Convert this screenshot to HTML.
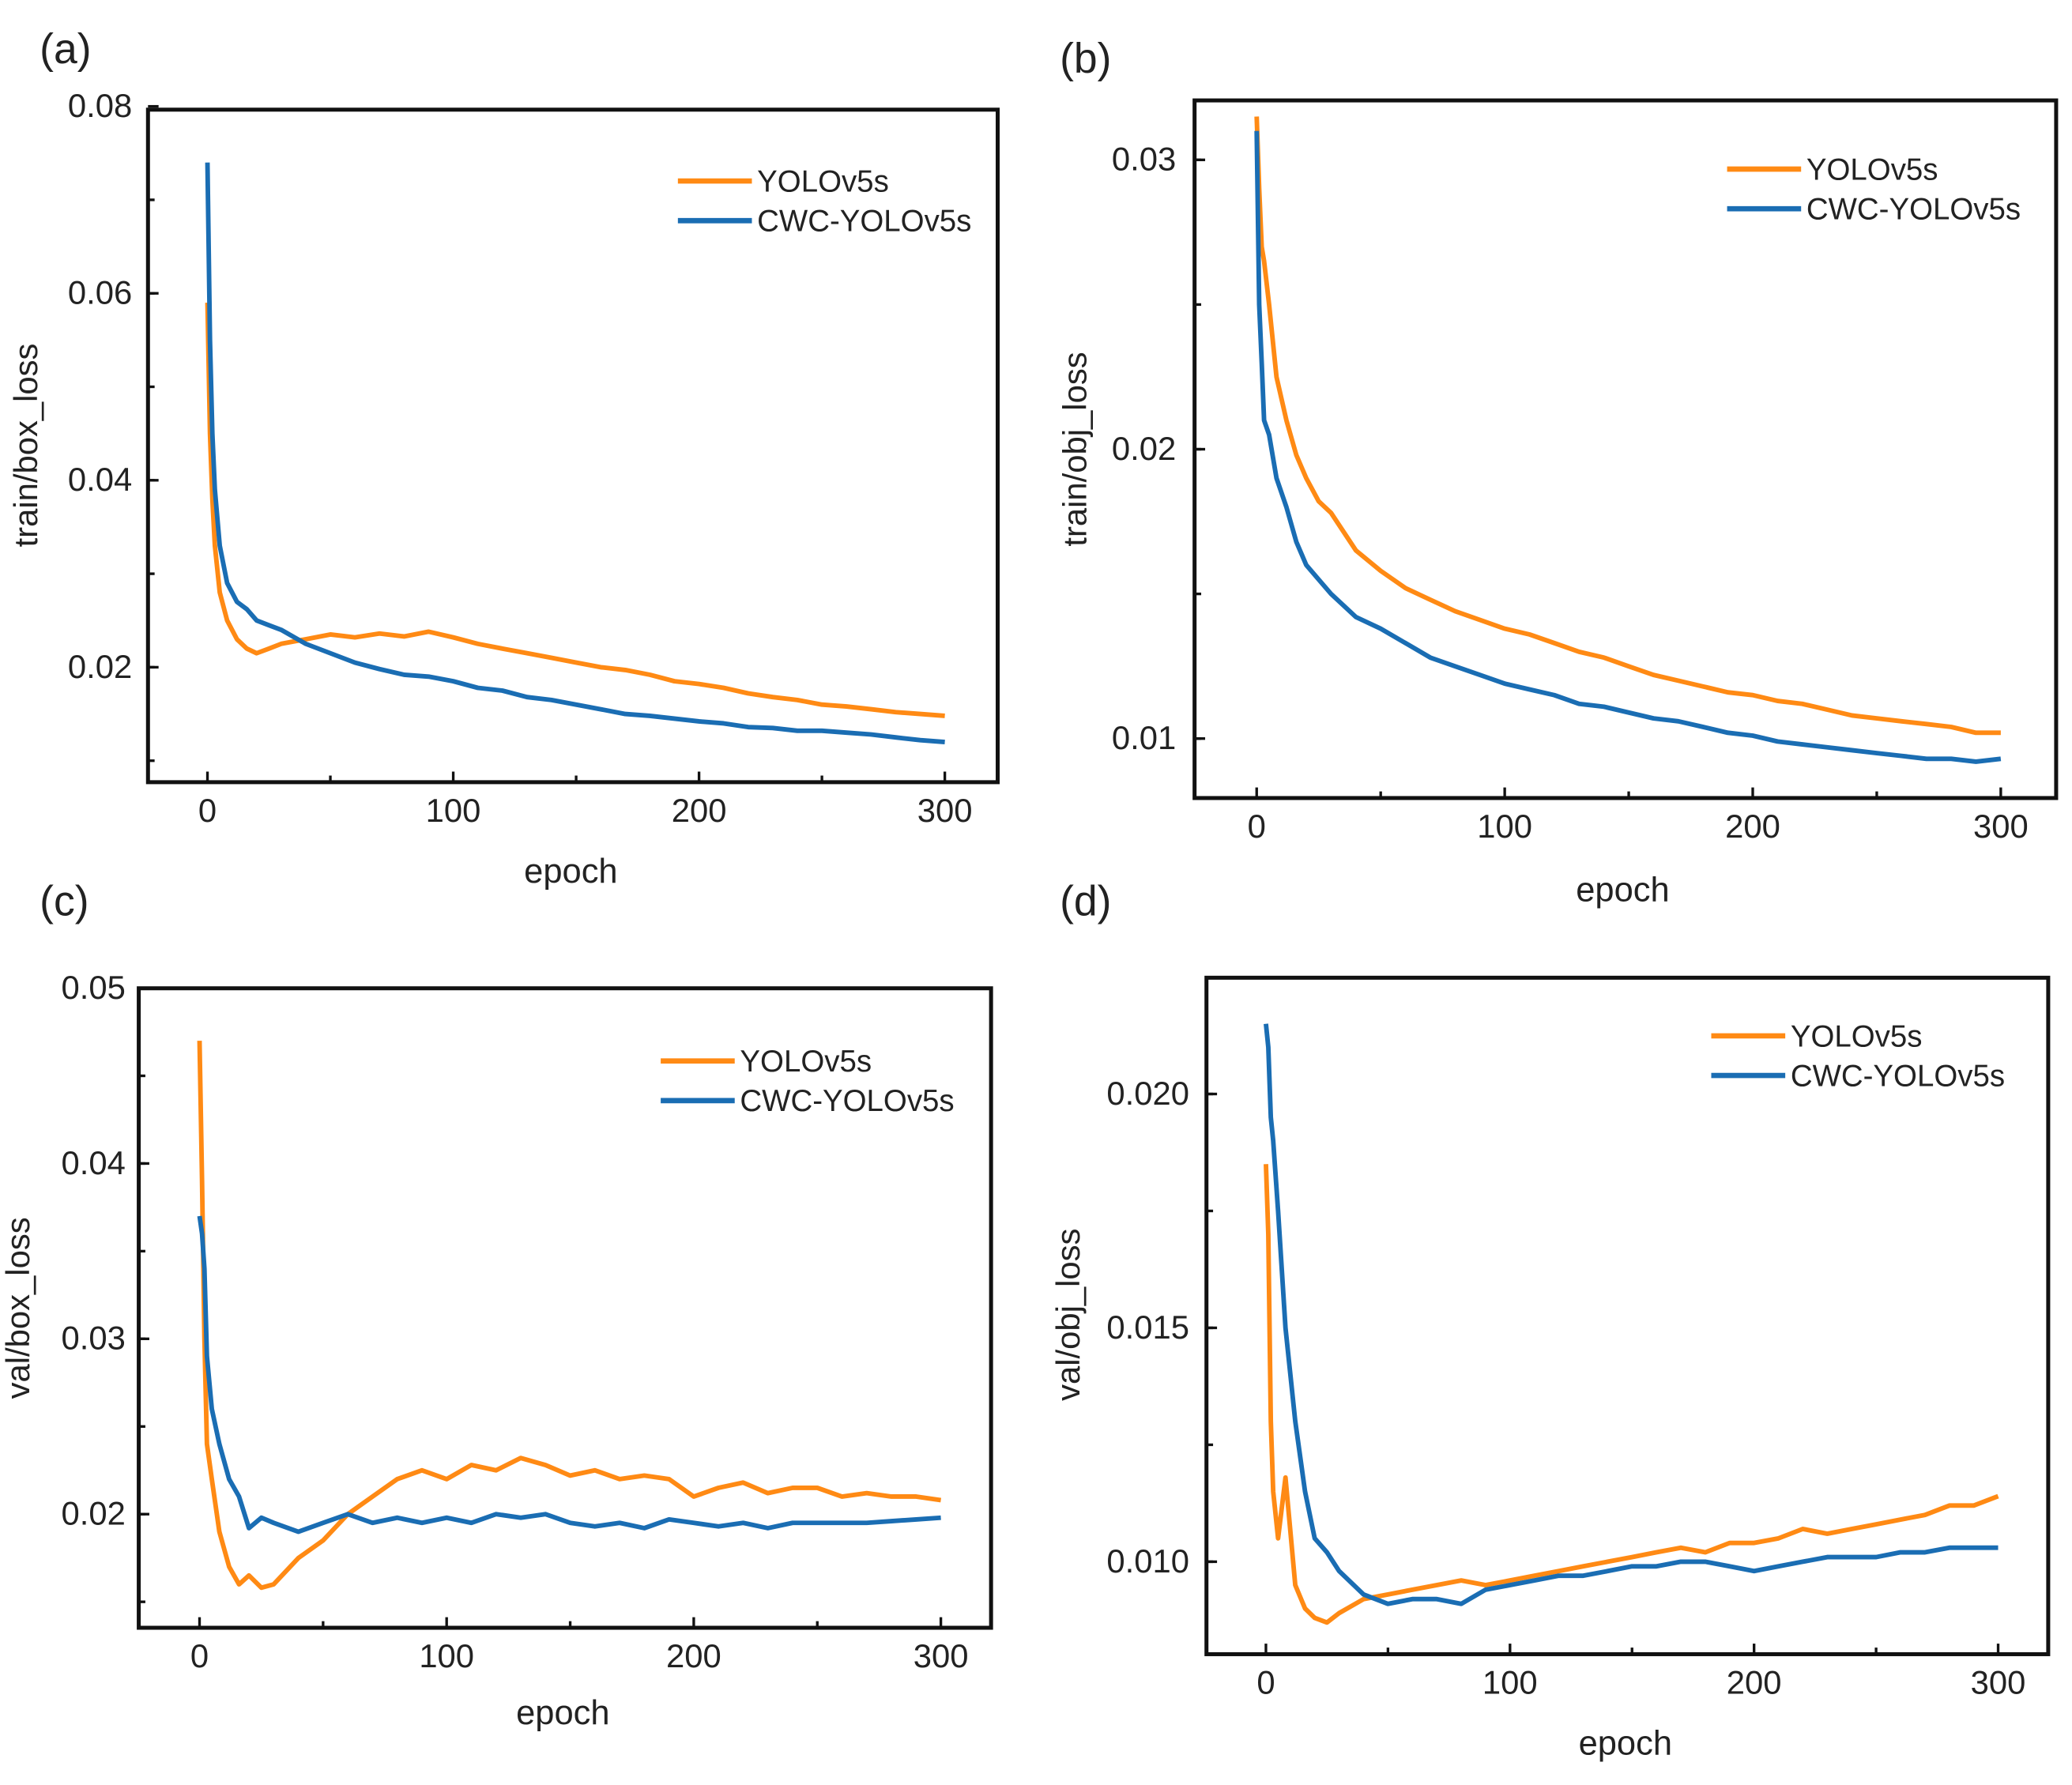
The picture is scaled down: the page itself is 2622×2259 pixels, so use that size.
<!DOCTYPE html>
<html>
<head>
<meta charset="utf-8">
<style>
html,body{margin:0;padding:0;background:#fff;}
svg{display:block;}
text{font-family:"Liberation Sans",sans-serif;fill:#222;}
</style>
</head>
<body>
<svg id="fig" width="2622" height="2259" viewBox="0 0 1568 1351" preserveAspectRatio="none" xmlns="http://www.w3.org/2000/svg"></svg>
<script>
const epochs = [0,1,2,3,5,8,12,16,20,25,30,40,50,60,70,80,90,100,110,120,130,140,150,160,170,180,190,200,210,220,230,240,250,260,270,280,290,300];

const aYolo = [0.059,0.045,0.038,0.033,0.028,0.025,0.023,0.022,0.0215,0.022,0.0225,0.023,0.0235,0.0232,0.0236,0.0233,0.0238,0.0232,0.0225,0.022,0.0215,0.021,0.0205,0.020,0.0197,0.0192,0.0185,0.0182,0.0178,0.0172,0.0168,0.0165,0.016,0.0158,0.0155,0.0152,0.015,0.0148];
const aCwc = [0.074,0.055,0.045,0.039,0.033,0.029,0.027,0.0262,0.025,0.0245,0.024,0.0225,0.0215,0.0205,0.0198,0.0192,0.019,0.0185,0.0178,0.0175,0.0168,0.0165,0.016,0.0155,0.015,0.0148,0.0145,0.0142,0.014,0.0136,0.0135,0.0132,0.0132,0.013,0.0128,0.0125,0.0122,0.012];

const bYolo = [0.0315,0.029,0.027,0.0265,0.025,0.0225,0.021,0.0198,0.019,0.0182,0.0178,0.0165,0.0158,0.0152,0.0148,0.0144,0.0141,0.0138,0.0136,0.0133,0.013,0.0128,0.0125,0.0122,0.012,0.0118,0.0116,0.0115,0.0113,0.0112,0.011,0.0108,0.0107,0.0106,0.0105,0.0104,0.0102,0.0102];
const bCwc = [0.031,0.025,0.023,0.021,0.0205,0.019,0.018,0.0168,0.016,0.0155,0.015,0.0142,0.0138,0.0133,0.0128,0.0125,0.0122,0.0119,0.0117,0.0115,0.0112,0.0111,0.0109,0.0107,0.0106,0.0104,0.0102,0.0101,0.0099,0.0098,0.0097,0.0096,0.0095,0.0094,0.0093,0.0093,0.0092,0.0093];

const cYolo = [0.047,0.039,0.030,0.024,0.022,0.019,0.017,0.016,0.0165,0.0158,0.016,0.0175,0.0185,0.020,0.021,0.022,0.0225,0.022,0.0228,0.0225,0.0232,0.0228,0.0222,0.0225,0.022,0.0222,0.022,0.021,0.0215,0.0218,0.0212,0.0215,0.0215,0.021,0.0212,0.021,0.021,0.0208];
const cCwc = [0.037,0.036,0.034,0.029,0.026,0.024,0.022,0.021,0.0192,0.0198,0.0195,0.019,0.0195,0.020,0.0195,0.0198,0.0195,0.0198,0.0195,0.020,0.0198,0.020,0.0195,0.0193,0.0195,0.0192,0.0197,0.0195,0.0193,0.0195,0.0192,0.0195,0.0195,0.0195,0.0195,0.0196,0.0197,0.0198];

const dYolo = [0.0185,0.017,0.013,0.0115,0.0105,0.0118,0.0095,0.009,0.0088,0.0087,0.0089,0.0092,0.0093,0.0094,0.0095,0.0096,0.0095,0.0096,0.0097,0.0098,0.0099,0.010,0.0101,0.0102,0.0103,0.0102,0.0104,0.0104,0.0105,0.0107,0.0106,0.0107,0.0108,0.0109,0.011,0.0112,0.0112,0.0114];
const dCwc = [0.0215,0.021,0.0195,0.019,0.0175,0.015,0.013,0.0115,0.0105,0.0102,0.0098,0.0093,0.0091,0.0092,0.0092,0.0091,0.0094,0.0095,0.0096,0.0097,0.0097,0.0098,0.0099,0.0099,0.010,0.010,0.0099,0.0098,0.0099,0.010,0.0101,0.0101,0.0101,0.0102,0.0102,0.0103,0.0103,0.0103];

const xTicks = [0,100,200,300];
const aTicks = [0.02,0.04,0.06,0.08];
const bTicks = [0.01,0.02,0.03];
const cTicks = [0.02,0.03,0.04,0.05];
const dTicks = [0.010,0.015,0.020];
const seriesNames = ["YOLOv5s","CWC-YOLOv5s"];

const NS="http://www.w3.org/2000/svg";
const svg=document.getElementById('fig');
function mk(tag,attrs,parent){const e=document.createElementNS(NS,tag);for(const k in attrs)e.setAttribute(k,attrs[k]);(parent||svg).appendChild(e);return e;}

const panels=[
 {id:'a',box:[112,83,755,592],x0:157,x100:186,yRef:[0.02,505],yPer:141.5/0.02,ticks:aTicks,dec:2,ys:[aYolo,aCwc],ytitle:'train/box_loss',yt:[28,337],et:[432,668],lab:[30,48],tickX:100,leg:[513,137],minor:0.01},
 {id:'b',box:[904,76,1556,604],x0:951,x100:187.7,yRef:[0.01,559],yPer:219/0.01,ticks:bTicks,dec:2,ys:[bYolo,bCwc],ytitle:'train/obj_loss',yt:[822,340],et:[1228,682],lab:[802,55],tickX:890,leg:[1307,128],minor:0.005},
 {id:'c',box:[105,748,750,1232],x0:151,x100:187,yRef:[0.02,1146],yPer:132.7/0.01,ticks:cTicks,dec:2,ys:[cYolo,cCwc],ytitle:'val/box_loss',yt:[22,990],et:[426,1305],lab:[30,693],tickX:95,leg:[500,803],minor:0.005},
 {id:'d',box:[913,740,1550,1252],x0:958,x100:184.7,yRef:[0.010,1182],yPer:177/0.005,ticks:dTicks,dec:3,ys:[dYolo,dCwc],ytitle:'val/obj_loss',yt:[817,995],et:[1230,1328],lab:[802,693],tickX:900,leg:[1295,784],minor:0.0025}
];
const colors=['#ff8a14','#1a6db3'];

panels.forEach(p=>{
 const g=mk('g',{});
 
 
 const xs=v=>p.x0+v*p.x100/100;
 const ys=v=>p.yRef[1]-(v-p.yRef[0])*p.yPer;
 const [L,T,R,B]=p.box;
 const cp=mk('clipPath',{id:'clip'+p.id},g);
 mk('rect',{x:L,y:T,width:R-L,height:B-T},cp);
 p.ys.forEach((arr,si)=>{
  let d='';
  arr.forEach((v,i)=>{d+=(i?'L':'M')+xs(epochs[i]).toFixed(1)+','+ys(v).toFixed(1);});
  const path=mk('path',{d:d,fill:'none',stroke:colors[si],'stroke-width':3.5,'stroke-linejoin':'round','clip-path':'url(#clip'+p.id+')'},g);
  
  
 });
 const fr=mk('rect',{x:L,y:T,width:R-L,height:B-T,fill:'none',stroke:'#111','stroke-width':3},g);
 
 
 for(let v=0;v<=300;v+=50){
  const x=xs(v);const major=v%100===0;
  mk('line',{x1:x,y1:B,x2:x,y2:B-(major?8:5),stroke:'#111','stroke-width':2},g);
 }
 xTicks.forEach(v=>{
  const t=mk('text',{x:xs(v),y:B+30,'text-anchor':'middle','font-size':25},g);
  t.textContent=v;
  
  
 });
 const lo=p.ticks[0]-p.minor*4, hi=p.ticks[p.ticks.length-1]+p.minor;
 for(let v=lo;v<=hi+1e-9;v+=p.minor){
  const y=ys(v); if(y<T+2||y>B) continue;
  mk('line',{x1:L,y1:y,x2:L+5,y2:y,stroke:'#111','stroke-width':2},g);
 }
 p.ticks.forEach(v=>{
  const y=ys(v);
  mk('line',{x1:L,y1:y,x2:L+8,y2:y,stroke:'#111','stroke-width':2},g);
  const t=mk('text',{x:p.tickX,y:y+8,'text-anchor':'end','font-size':25},g);
  t.textContent=v.toFixed(p.dec);
  
  
 });
 const yt=mk('text',{x:p.yt[0],y:p.yt[1],'text-anchor':'middle','font-size':25,transform:'rotate(-90 '+p.yt[0]+' '+p.yt[1]+')'},g);
 yt.textContent=p.ytitle;
 
 
 const et=mk('text',{x:p.et[0],y:p.et[1],'text-anchor':'middle','font-size':26},g);
 et.textContent='epoch';
 
 
 const pl=mk('text',{x:p.lab[0],y:p.lab[1],'font-size':32},g);
 pl.textContent='('+p.id+')';
 
 
 seriesNames.forEach((n,i)=>{
  const y=p.leg[1]+i*30;
  const ln=mk('line',{x1:p.leg[0],y1:y,x2:p.leg[0]+56,y2:y,stroke:colors[i],'stroke-width':4},g);
  
  
  const t=mk('text',{x:p.leg[0]+60,y:y+8,'font-size':23},g);
  t.textContent=n;
  
  
 });
});
</script>
</body>
</html>
